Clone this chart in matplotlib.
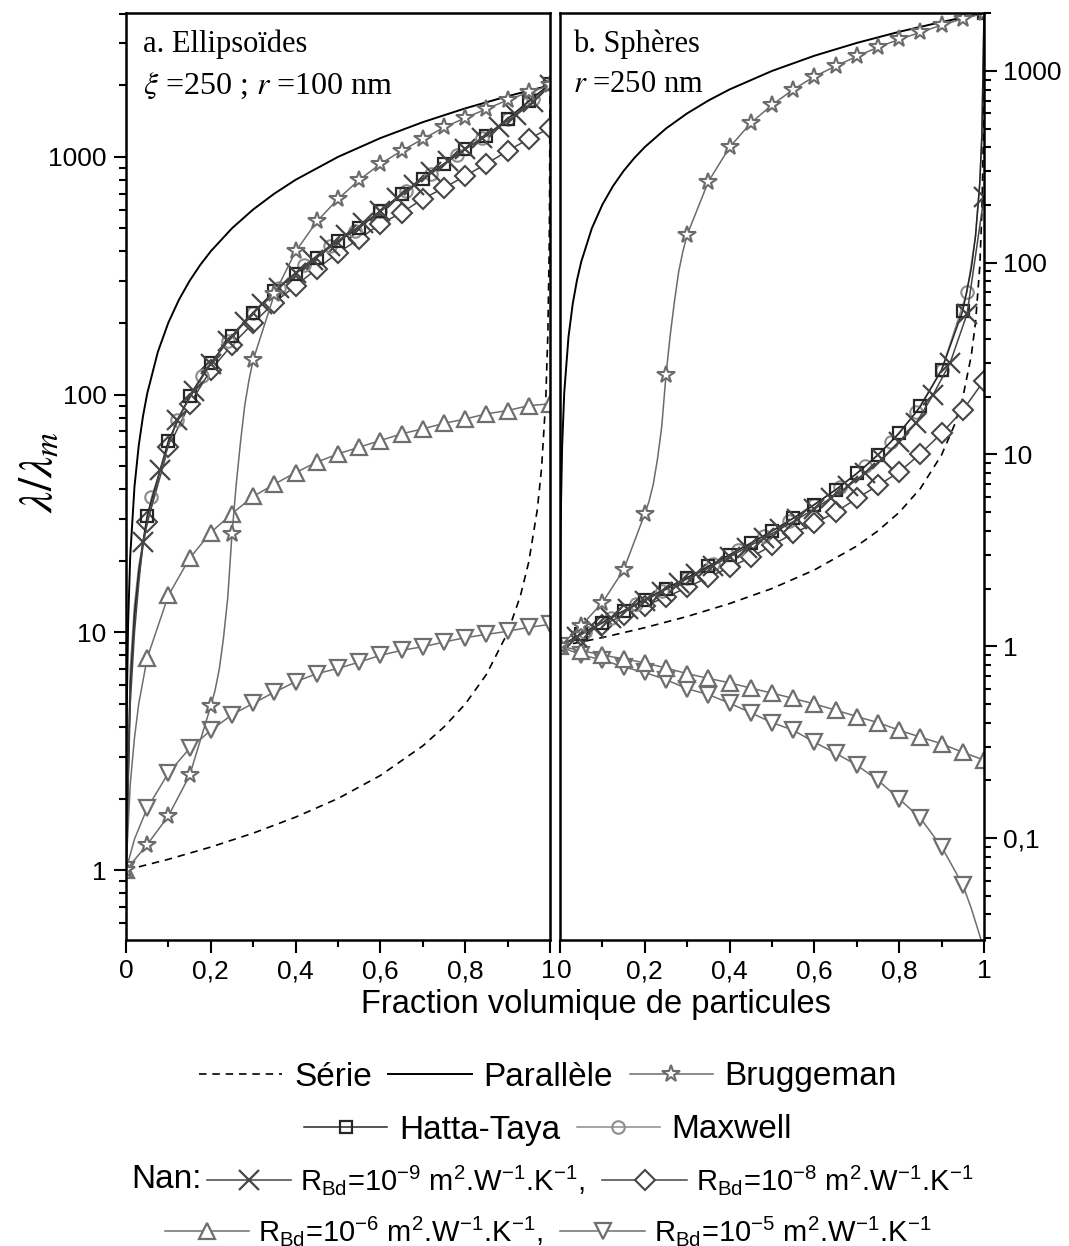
import numpy as np
import matplotlib
matplotlib.use('Agg')
import matplotlib.pyplot as plt
import matplotlib.transforms as mtransforms
from matplotlib.lines import Line2D
from matplotlib.ticker import FixedLocator, FixedFormatter, NullFormatter

plt.rcParams['font.family'] = ['Liberation Sans', 'DejaVu Sans']
plt.rcParams['mathtext.fontset'] = 'custom'
plt.rcParams['mathtext.rm'] = 'Liberation Sans'
plt.rcParams['mathtext.it'] = 'Liberation Sans:italic'
plt.rcParams['mathtext.bf'] = 'Liberation Sans:bold'

# ==========================================
# DATA (lambda / lambda_m vs volume fraction)
# ==========================================
# shared curves (same in both panels)
phi_par = [0, 0.0005, 0.001, 0.002, 0.005, 0.01, 0.02, 0.03, 0.04, 0.05, 0.075, 0.1, 0.125,
           0.15, 0.175, 0.2, 0.25, 0.3, 0.35, 0.4, 0.5, 0.6, 0.7, 0.8, 0.9, 1.0]
par_val = [1, 2.0, 3.0, 5.0, 11, 21, 41, 61, 81, 101, 151, 201, 251,
           301, 351, 401, 501, 601, 701, 801, 1000, 1200, 1400, 1600, 1800, 2000]

phi_ser = [0, 0.1, 0.2, 0.3, 0.4, 0.5, 0.6, 0.7, 0.75, 0.8, 0.85, 0.9, 0.93, 0.95,
           0.97, 0.98, 0.99, 0.995, 0.998, 0.999, 1.0]
ser_val = [1, 1.11, 1.25, 1.43, 1.67, 2.0, 2.5, 3.33, 4.0, 4.99, 6.65, 9.96, 14.2, 19.8,
           32.8, 48.8, 95.2, 182, 400, 667, 2000]

phi_bru = [0, 0.05, 0.1, 0.15, 0.2, 0.21, 0.22, 0.23, 0.24, 0.25, 0.26, 0.27, 0.28, 0.29,
           0.3, 0.35, 0.4, 0.45, 0.5, 0.55, 0.6, 0.65, 0.7, 0.75, 0.8, 0.85, 0.9, 0.95, 1.0]
bru_val = [1, 1.28, 1.69, 2.5, 4.9, 5.7, 7.0, 9.5, 14, 26, 42, 63, 90, 115,
           140, 265, 400, 535, 665, 800, 935, 1060, 1190, 1330, 1460, 1590, 1735, 1870, 2000]

# a. Ellipsoides
ht_a_phi = [0, 0.01, 0.02, 0.03, 0.04, 0.05, 0.1, 0.15, 0.2, 0.25, 0.3, 0.35, 0.4, 0.45,
            0.5, 0.55, 0.6, 0.65, 0.7, 0.75, 0.8, 0.85, 0.9, 0.95, 1.0]
ht_a = [1, 6, 12, 18, 24, 31, 64, 99, 136, 177, 220, 272, 323, 377,
        443, 503, 593, 699, 808, 935, 1081, 1225, 1445, 1719, 2027]

mx_a_phi = [0, 0.01, 0.02, 0.03, 0.06, 0.12, 0.18, 0.24, 0.30, 0.36, 0.42, 0.48, 0.54,
            0.60, 0.66, 0.72, 0.78, 0.84, 0.90, 0.96, 1.0]
mx_a = [1, 7, 13, 19, 37, 78, 120, 168, 220, 282, 350, 420, 490,
        590, 720, 850, 1020, 1200, 1440, 1750, 2000]

n9_a_phi = [0, 0.01, 0.02, 0.03, 0.04, 0.08, 0.12, 0.16, 0.2, 0.24, 0.28, 0.32, 0.36, 0.4,
            0.44, 0.48, 0.52, 0.56, 0.6, 0.64, 0.68, 0.72, 0.76, 0.8, 0.84, 0.88, 0.92,
            0.96, 1.0]
n9_a = [1, 5, 10, 16, 24, 48, 78, 104, 135, 168, 203, 240, 282, 325,
        370, 420, 470, 525, 590, 670, 760, 860, 960, 1080, 1200, 1340, 1500,
        1700, 2000]

n8_a_phi = [0, 0.01, 0.02, 0.03, 0.04, 0.05, 0.1, 0.15, 0.2, 0.25, 0.3, 0.35, 0.4, 0.45,
            0.5, 0.55, 0.6, 0.65, 0.7, 0.75, 0.8, 0.85, 0.9, 0.95, 1.0]
n8_a = [1, 6, 11.5, 17, 23, 29, 60, 91, 127, 162, 200, 244, 287, 338,
        395, 452, 523, 582, 666, 741, 832, 935, 1060, 1190, 1324]

n6_a_phi = [0, 0.01, 0.02, 0.03, 0.05, 0.1, 0.15, 0.2, 0.25, 0.3, 0.35, 0.4, 0.45,
            0.5, 0.55, 0.6, 0.65, 0.7, 0.75, 0.8, 0.85, 0.9, 0.95, 1.0]
n6_a = [1, 2.3, 3.6, 5.0, 7.8, 14.3, 20.5, 26.3, 31.6, 37.3, 42, 47, 52,
        56.3, 60.1, 64.1, 68.4, 71.8, 75.7, 79.0, 83.0, 85.7, 89.9, 91.4]

n5_a_phi = [0, 0.02, 0.05, 0.1, 0.15, 0.2, 0.25, 0.3, 0.35, 0.4, 0.45,
            0.5, 0.55, 0.6, 0.65, 0.7, 0.75, 0.8, 0.85, 0.9, 0.95, 1.0]
n5_a = [1, 1.35, 1.82, 2.56, 3.25, 3.87, 4.5, 5.03, 5.6, 6.2, 6.7,
        7.05, 7.5, 8.0, 8.4, 8.7, 9.1, 9.5, 9.8, 10.1, 10.5, 10.8]

# b. Spheres
ht_b_phi = [0, 0.05, 0.1, 0.15, 0.2, 0.25, 0.3, 0.35, 0.4, 0.45, 0.5, 0.55, 0.6, 0.65,
            0.7, 0.75, 0.8, 0.85, 0.9, 0.95, 0.97, 0.98, 0.99, 0.995, 1.0]
ht_b = [1, 1.16, 1.33, 1.53, 1.75, 2.0, 2.28, 2.61, 3.0, 3.45, 3.99, 4.65, 5.48, 6.54,
        7.96, 9.94, 12.9, 17.8, 27.6, 56.3, 93, 138, 259, 460, 2000]

mx_b_phi = [0, 0.06, 0.12, 0.18, 0.24, 0.30, 0.36, 0.42, 0.48, 0.54, 0.60, 0.66, 0.72,
            0.78, 0.84, 0.90, 0.96, 0.98, 0.99, 0.995, 1.0]
mx_b = [1, 1.19, 1.41, 1.66, 1.95, 2.28, 2.68, 3.17, 3.76, 4.51, 5.48, 6.80, 8.67,
        11.6, 16.6, 27.6, 70.3, 138, 259, 460, 2000]

n9_b_phi = [0, 0.04, 0.08, 0.12, 0.16, 0.2, 0.24, 0.28, 0.32, 0.36, 0.4, 0.44, 0.48, 0.52,
            0.56, 0.6, 0.64, 0.68, 0.72, 0.76, 0.8, 0.84, 0.88, 0.92, 0.96, 1.0]
n9_b = [1, 1.12, 1.25, 1.40, 1.56, 1.73, 1.93, 2.13, 2.37, 2.63, 2.93, 3.27, 3.65, 4.1,
        4.6, 5.2, 5.95, 6.85, 8.0, 9.5, 11.6, 14.6, 20.5, 30, 54, 220]

n8_b_phi = [0, 0.05, 0.1, 0.15, 0.2, 0.25, 0.3, 0.35, 0.4, 0.45, 0.5, 0.55, 0.6, 0.65,
            0.7, 0.75, 0.8, 0.85, 0.9, 0.95, 1.0]
n8_b = [1, 1.14, 1.29, 1.45, 1.63, 1.80, 2.03, 2.29, 2.58, 2.91, 3.36, 3.88, 4.37, 5.0,
        5.9, 6.9, 8.1, 10.1, 12.9, 17, 24.3]

n6_b_phi = n8_b_phi
n6_b = [1, 0.95, 0.90, 0.86, 0.82, 0.77, 0.72, 0.68, 0.645, 0.605, 0.57, 0.535, 0.50, 0.465,
        0.43, 0.40, 0.365, 0.336, 0.31, 0.28, 0.255]

n5_b_phi = [0, 0.05, 0.1, 0.15, 0.2, 0.25, 0.3, 0.35, 0.4, 0.45, 0.5, 0.55, 0.6, 0.65,
            0.7, 0.75, 0.8, 0.85, 0.9, 0.95, 0.97, 0.99, 1.0]
n5_b = [1, 0.90, 0.85, 0.78, 0.73, 0.67, 0.60, 0.56, 0.505, 0.45, 0.40, 0.365, 0.316, 0.277,
        0.24, 0.20, 0.16, 0.127, 0.090, 0.057, 0.043, 0.031, 0.026]

x_ticks = [0, 0.2, 0.4, 0.6, 0.8, 1.0]
x_labels = ['0', '0,2', '0,4', '0,6', '0,8', '1']
ya_ticks = [1, 10, 100, 1000]
ya_labels = ['1', '10', '100', '1000']
yb_ticks = [0.1, 1, 10, 100, 1000]
yb_labels = ['0,1', '1', '10', '100', '1000']

# ==========================================
# STYLES
# ==========================================
C_BRU = '#6b6b6b'
C_HT = '#262626'
C_MX = '#8c8c8c'
C_N9 = '#454545'
C_N8 = '#454545'
C_N6 = '#6e6e6e'
C_N5 = '#6e6e6e'

styles = {
    'ser': dict(color='black', lw=1.2, ls=(0, (4.5, 3.5))),
    'par': dict(color='black', lw=1.4),
    'bru': dict(color=C_BRU, lw=1.1, marker='*', ms=13, mfc='white', mec=C_BRU, mew=1.5),
    'ht': dict(color=C_HT, lw=1.1, marker='s', ms=9, mfc='none', mec=C_HT, mew=1.6),
    'mx': dict(color=C_MX, lw=1.1, marker='o', ms=9, mfc='none', mec=C_MX, mew=1.5),
    'n9': dict(color=C_N9, lw=1.1, marker='x', ms=14, mfc='none', mec=C_N9, mew=1.6),
    'n8': dict(color=C_N8, lw=1.1, marker='D', ms=10, mfc='white', mec=C_N8, mew=1.5),
    'n6': dict(color=C_N6, lw=1.1, marker='^', ms=12, mfc='white', mec=C_N6, mew=1.6),
    'n5': dict(color=C_N5, lw=1.1, marker='v', ms=12, mfc='white', mec=C_N5, mew=1.6),
}


def marks(phi, step, zero=False):
    idx = []
    for i, p in enumerate(phi):
        k = p / step
        if abs(k - round(k)) < 1e-6 and (p > 0 or zero):
            idx.append(i)
    return idx


W, H = 1069, 1246
fig = plt.figure(figsize=(W / 100, H / 100), dpi=100)
top, bot = 13, 940
ax1 = fig.add_axes([126 / W, 1 - bot / H, 424 / W, (bot - top) / H])
ax2 = fig.add_axes([560 / W, 1 - bot / H, 424 / W, (bot - top) / H])


def draw(ax, series):
    ax.plot(phi_ser, ser_val, **styles['ser'])
    ax.plot(phi_par, par_val, **styles['par'])
    for key, phi, val, step, zero in series:
        ax.plot(phi, val, markevery=marks(phi, step, zero), **styles[key])
    ax.plot(phi_bru, bru_val, markevery=marks(phi_bru, 0.05, True), **styles['bru'])


draw(ax1, [
    ('n5', n5_a_phi, n5_a, 0.05, True),
    ('n6', n6_a_phi, n6_a, 0.05, True),
    ('n8', n8_a_phi, n8_a, 0.05, False),
    ('mx', mx_a_phi, mx_a, 0.06, False),
    ('ht', ht_a_phi, ht_a, 0.05, False),
    ('n9', n9_a_phi, n9_a, 0.04, False),
])
draw(ax2, [
    ('n5', n5_b_phi, n5_b, 0.05, True),
    ('n6', n6_b_phi, n6_b, 0.05, True),
    ('n8', n8_b_phi, n8_b, 0.05, False),
    ('mx', mx_b_phi, mx_b, 0.06, False),
    ('ht', ht_b_phi, ht_b, 0.05, False),
    ('n9', n9_b_phi, n9_b, 0.04, False),
])

# axes formatting
for ax in (ax1, ax2):
    ax.set_yscale('log')
    ax.set_xlim(0, 1)
    ax.xaxis.set_major_locator(FixedLocator(x_ticks))
    ax.xaxis.set_major_formatter(FixedFormatter(x_labels))
    ax.xaxis.set_minor_locator(FixedLocator([0.1, 0.3, 0.5, 0.7, 0.9]))
    for s in ax.spines.values():
        s.set_linewidth(1.8)
    ax.tick_params(axis='both', which='major', direction='out', length=9, width=1.5,
                   labelsize=19, pad=5)
    ax.tick_params(axis='both', which='minor', direction='out', length=5, width=1.5)
    ax.tick_params(axis='x', top=False, which='both')

minor_y = [m * 10.0 ** e for e in range(-2, 4) for m in range(2, 10)]

ax1.set_ylim(0.508, 4030)
ax1.yaxis.set_major_locator(FixedLocator(ya_ticks))
ax1.yaxis.set_major_formatter(FixedFormatter(ya_labels))
ax1.yaxis.set_minor_locator(FixedLocator(minor_y))
ax1.yaxis.set_minor_formatter(NullFormatter())
ax1.tick_params(axis='y', which='both', left=True, right=False)

ax2.set_ylim(0.0294, 2005)
ax2.yaxis.tick_right()
ax2.yaxis.set_major_locator(FixedLocator(yb_ticks))
ax2.yaxis.set_major_formatter(FixedFormatter(yb_labels))
ax2.yaxis.set_minor_locator(FixedLocator(minor_y))
ax2.yaxis.set_minor_formatter(NullFormatter())
ax2.tick_params(axis='y', which='both', left=False, right=True)

# the "1" of panel a and the "0" of panel b sit side by side, like "10"
fig.canvas.draw()
lab1 = ax1.xaxis.get_major_ticks()[-1].label1
lab1.set_transform(lab1.get_transform() + mtransforms.ScaledTranslation(-2 / 100, 0, fig.dpi_scale_trans))
lab2 = ax2.xaxis.get_major_ticks()[0].label1
lab2.set_transform(lab2.get_transform() + mtransforms.ScaledTranslation(4 / 100, 0, fig.dpi_scale_trans))

# panel annotations
serif = dict(family='Liberation Serif', va='top', math_fontfamily='stix')
ax1.text(0.04, 0.982, 'a. Ellipsoïdes', transform=ax1.transAxes, fontsize=22, **serif)
ax1.text(0.04, 0.938, r'$\xi$ =250 ; $r$ =100 nm', transform=ax1.transAxes, fontsize=23, **serif)
ax2.text(0.031, 0.982, 'b. Sphères', transform=ax2.transAxes, fontsize=22, **serif)
ax2.text(0.031, 0.938, r'$r$ =250 nm', transform=ax2.transAxes, fontsize=22, **serif)

# axis titles
fig.text(40 / W, 1 - 472 / H, r'$\lambda/\lambda_m$', rotation=90, ha='center', va='center',
         fontsize=34, math_fontfamily='stix')
fig.text(596 / W, 1 - 1005 / H, 'Fraction volumique de particules', ha='center', va='center',
         fontsize=23.5)


# legend
def proxy(key):
    return Line2D([], [], **styles[key])


def rbd(e, comma):
    return r'R$_{\mathrm{Bd}}$=10$^{' + e + r'}$ m$^{2}$.W$^{-1}$.K$^{-1}$' + (',' if comma else '')


leg_a = dict(loc='center', frameon=False, fontsize=24, handlelength=2.5, handletextpad=0.35,
             columnspacing=0.5, numpoints=1, borderpad=0, borderaxespad=0)
leg_b = dict(loc='center', frameon=False, fontsize=21, handlelength=2.9, handletextpad=0.3,
             columnspacing=0.6, numpoints=1, borderpad=0, borderaxespad=0)

fig.legend([proxy('ser'), proxy('par'), proxy('bru')], ['Série', 'Parallèle', 'Bruggeman'],
           ncol=3, bbox_to_anchor=(548 / W, 1 - 1077 / H), **leg_a)
fig.legend([proxy('ht'), proxy('mx')], ['Hatta-Taya', 'Maxwell'],
           ncol=2, bbox_to_anchor=(548 / W, 1 - 1130 / H), **leg_a)
fig.text(131 / W, 1 - 1180 / H, 'Nan:', ha='left', va='center', fontsize=24)
fig.legend([proxy('n9'), proxy('n8')], [rbd('-9', True), rbd('-8', False)],
           ncol=2, bbox_to_anchor=(590 / W, 1 - 1180 / H), **leg_b)
fig.legend([proxy('n6'), proxy('n5')], [rbd('-6', True), rbd('-5', False)],
           ncol=2, bbox_to_anchor=(548 / W, 1 - 1231 / H), **leg_b)

fig.savefig('out.png', dpi=100)
